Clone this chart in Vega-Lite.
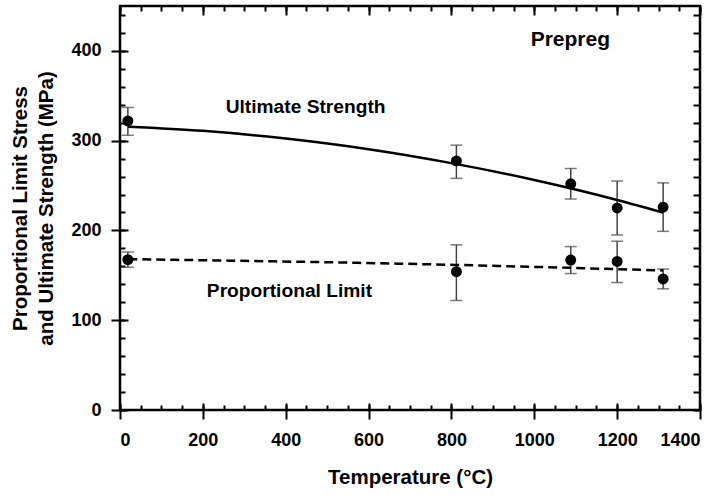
{
  "$schema": "https://vega.github.io/schema/vega-lite/v6.json",
  "width": 580,
  "height": 404,
  "autosize": "none",
  "padding": {"left": 120, "top": 6, "right": 25, "bottom": 88},
  "background": "white",
  "config": {
    "view": {"stroke": "black", "strokeWidth": 2.5},
    "axis": {"grid": false, "domain": false, "tickColor": "black", "tickWidth": 2,
             "labelFont": "Liberation Sans", "labelFontWeight": "bold", "labelFontSize": 18, "labelColor": "black",
             "titleFont": "Liberation Sans", "titleFontWeight": "bold", "titleFontSize": 20.5, "titleColor": "black"}
  },
  "datasets": {
    "pts": [
      {"series": "Ultimate", "T": 19, "val": 322, "lo": 306, "hi": 337},
      {"series": "Ultimate", "T": 812, "val": 277.5, "lo": 258, "hi": 295},
      {"series": "Ultimate", "T": 1088, "val": 252, "lo": 235, "hi": 269},
      {"series": "Ultimate", "T": 1200, "val": 225, "lo": 195, "hi": 255},
      {"series": "Ultimate", "T": 1311, "val": 226, "lo": 199, "hi": 253},
      {"series": "Proportional", "T": 19, "val": 167.5, "lo": 159, "hi": 176},
      {"series": "Proportional", "T": 812, "val": 154, "lo": 122, "hi": 184},
      {"series": "Proportional", "T": 1088, "val": 167, "lo": 152, "hi": 182},
      {"series": "Proportional", "T": 1200, "val": 165.5, "lo": 142, "hi": 188},
      {"series": "Proportional", "T": 1311, "val": 146, "lo": 135, "hi": 157}
    ],
    "fitU": [
      {"T": 20, "val": 315.6}, {"T": 200, "val": 311}, {"T": 400, "val": 302.4}, {"T": 600, "val": 290.5},
      {"T": 800, "val": 275}, {"T": 1000, "val": 256.2}, {"T": 1200, "val": 234}, {"T": 1311, "val": 220}
    ],
    "fitP": [
      {"T": 20, "val": 168}, {"T": 675, "val": 163}, {"T": 1311, "val": 155.5}
    ],
    "ann": [
      {"T": 448, "val": 337.6, "label": "Ultimate Strength", "size": "s"},
      {"T": 409, "val": 132, "label": "Proportional Limit", "size": "s"},
      {"T": 1087, "val": 412, "label": "Prepreg", "size": "l"}
    ]
  },
  "resolve": {"scale": {"x": "independent", "y": "independent"}, "axis": {"x": "independent", "y": "independent"}},
  "layer": [
    {
      "data": {"name": "pts"},
      "mark": {"type": "rule", "color": "#444", "strokeWidth": 1.5},
      "encoding": {
        "x": {"field": "T", "type": "quantitative", "scale": {"domain": [0, 1400], "nice": false},
              "axis": {"orient": "bottom", "values": [0, 200, 400, 600, 800, 1000, 1200, 1400], "format": "d", "offset": -7, "tickSize": 16, "tickColor": "black", "labelPadding": 12, "title": "Temperature (°C)", "titlePadding": 18}},
        "y": {"field": "lo", "type": "quantitative", "scale": {"domain": [0, 450], "nice": false},
              "axis": {"orient": "left", "values": [0, 100, 200, 300, 400], "format": "d", "offset": -8, "tickSize": 17, "tickColor": "black", "labelPadding": 10, "title": ["Proportional Limit Stress", "and Ultimate Strength (MPa)"], "titleLineHeight": 26, "titlePadding": 14}},
        "y2": {"field": "hi"}
      }
    },
    {
      "data": {"name": "pts"},
      "mark": {"type": "tick", "orient": "horizontal", "color": "#444", "size": 12, "thickness": 1.5},
      "encoding": {
        "x": {"field": "T", "type": "quantitative", "scale": {"domain": [0, 1400], "nice": false},
              "axis": {"orient": "bottom", "values": [0, 50, 100, 150, 200, 250, 300, 350, 400, 450, 500, 550, 600, 650, 700, 750, 800, 850, 900, 950, 1000, 1050, 1100, 1150, 1200, 1250, 1300, 1350, 1400],
                       "labelOpacity": 0, "title": null, "offset": -5, "tickSize": 5, "tickColor": "black"}},
        "y": {"field": "lo", "type": "quantitative", "scale": {"domain": [0, 450], "nice": false},
              "axis": {"orient": "left", "values": [0, 20, 40, 60, 80, 100, 120, 140, 160, 180, 200, 220, 240, 260, 280, 300, 320, 340, 360, 380, 400, 420, 440],
                       "labelOpacity": 0, "title": null, "offset": -5, "tickSize": 5, "tickColor": "black"}}
      }
    },
    {
      "data": {"name": "pts"},
      "mark": {"type": "tick", "orient": "horizontal", "color": "#444", "size": 12, "thickness": 1.5},
      "encoding": {
        "x": {"field": "T", "type": "quantitative", "scale": {"domain": [0, 1400], "nice": false},
              "axis": {"orient": "top", "values": [0, 50, 100, 150, 200, 250, 300, 350, 400, 450, 500, 550, 600, 650, 700, 750, 800, 850, 900, 950, 1000, 1050, 1100, 1150, 1200, 1250, 1300, 1350, 1400],
                       "labelOpacity": 0, "title": null, "offset": -5, "tickSize": 5, "tickColor": "black"}},
        "y": {"field": "hi", "type": "quantitative", "scale": {"domain": [0, 450], "nice": false},
              "axis": {"orient": "right", "values": [0, 20, 40, 60, 80, 100, 120, 140, 160, 180, 200, 220, 240, 260, 280, 300, 320, 340, 360, 380, 400, 420, 440],
                       "labelOpacity": 0, "title": null, "offset": -7, "tickSize": 7, "tickColor": "black"}}
      }
    },
    {
      "data": {"name": "fitU"},
      "mark": {"type": "line", "color": "black", "strokeWidth": 2.5, "interpolate": "monotone"},
      "encoding": {
        "x": {"field": "T", "type": "quantitative", "scale": {"domain": [0, 1400], "nice": false},
              "axis": {"orient": "top", "values": [0, 200, 400, 600, 800, 1000, 1200, 1400], "labelOpacity": 0, "title": null, "offset": -9, "tickSize": 9, "tickColor": "black"}},
        "y": {"field": "val", "type": "quantitative", "scale": {"domain": [0, 450], "nice": false}, "axis": null}
      }
    },
    {
      "data": {"name": "fitP"},
      "mark": {"type": "line", "color": "black", "strokeWidth": 2.5, "strokeDash": [9, 5], "interpolate": "monotone"},
      "encoding": {
        "x": {"field": "T", "type": "quantitative", "scale": {"domain": [0, 1400], "nice": false}, "axis": null},
        "y": {"field": "val", "type": "quantitative", "scale": {"domain": [0, 450], "nice": false}, "axis": null}
      }
    },
    {
      "data": {"name": "pts"},
      "mark": {"type": "point", "filled": true, "color": "black", "size": 120, "opacity": 1},
      "encoding": {
        "x": {"field": "T", "type": "quantitative", "scale": {"domain": [0, 1400], "nice": false}, "axis": null},
        "y": {"field": "val", "type": "quantitative", "scale": {"domain": [0, 450], "nice": false}, "axis": null}
      }
    },
    {
      "data": {"name": "ann"},
      "mark": {"type": "text", "font": "Liberation Sans", "fontWeight": "bold", "color": "black", "align": "center", "baseline": "middle"},
      "encoding": {
        "x": {"field": "T", "type": "quantitative", "scale": {"domain": [0, 1400], "nice": false}, "axis": null},
        "y": {"field": "val", "type": "quantitative", "scale": {"domain": [0, 450], "nice": false}, "axis": null},
        "text": {"field": "label"},
        "size": {"field": "size", "type": "nominal", "scale": {"domain": ["s", "l"], "range": [19.2, 21]}, "legend": null}
      }
    }
  ]
}
